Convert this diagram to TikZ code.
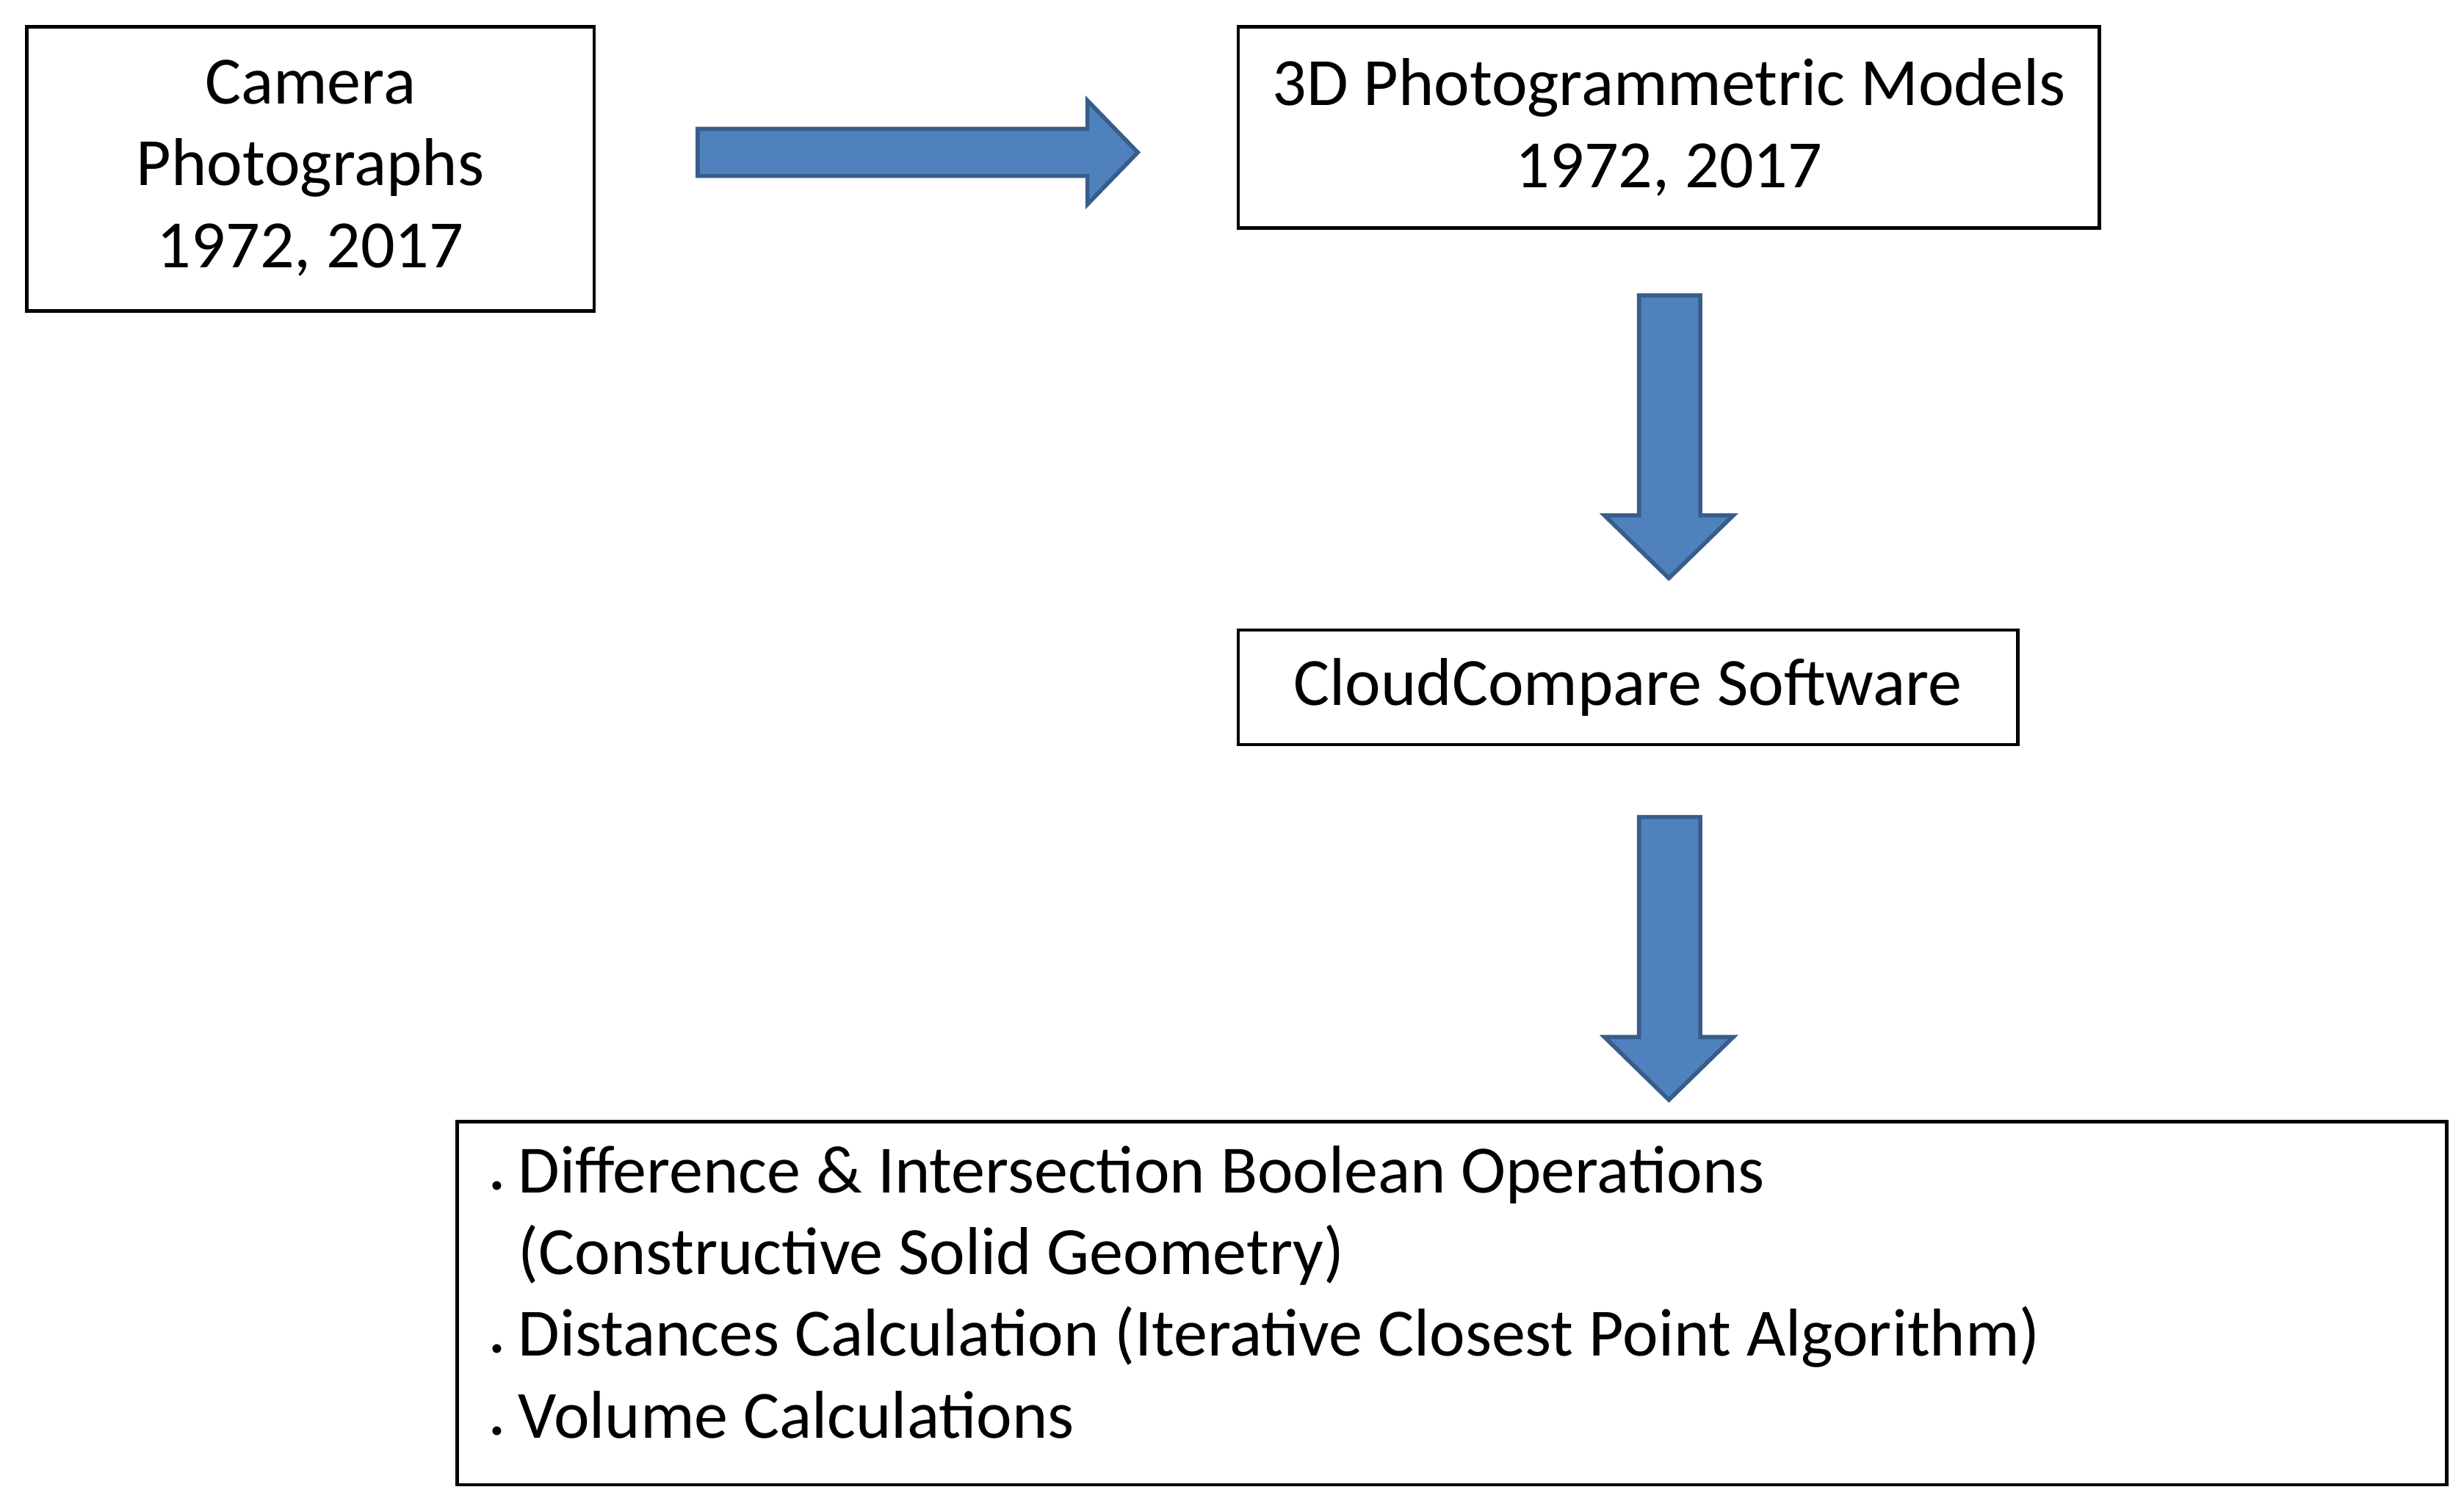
\documentclass[tikz,border=0pt]{standalone}
\usepackage{fontspec}
\setmainfont{Carlito}
\begin{document}
\begin{tikzpicture}[x=0.02cm,y=-0.02cm,
  box/.style={draw=black,line width=1.2pt,fill=white},
  txt/.style={font=\fontsize{24.5}{29.6}\selectfont,align=center,text=black},
  blk/.style={fill={rgb,255:red,79;green,129;blue,189},draw={rgb,255:red,56;green,93;blue,138},line width=1.5pt}]
\useasboundingbox (0,0) rectangle (1568,960);
\fill[white] (0,0) rectangle (1568,960);
\draw[box] (17,17) rectangle (378,198);
\node[txt] (cam) at (197.5,107) {Camera\\Photographs\\1972, 2017};
\draw[box] (788,17) rectangle (1336,145);
\node[txt] (pm) at (1062,81) {3D Photogrammetric Models\\1972, 2017};
\draw[box] (788,401) rectangle (1284,474);
\node[txt] (cc) at (1036,437.5) {CloudCompare Software};
\draw[box] (291,714) rectangle (1557,945);
\node[txt,align=left,anchor=north west] (ops) at (306,723) {{\small\textbullet}\ Difference \& Intersection Boolean Operations\\
\phantom{{\small\textbullet}\ }(Constructive Solid Geometry)\\
{\small\textbullet}\ Distances Calculation (Iterative Closest Point Algorithm)\\
{\small\textbullet}\ Volume Calculations};
\draw[blk] (444,82) -- (692,82) -- (692,64) -- (724,97) -- (692,130) -- (692,112) -- (444,112) -- cycle;
\draw[blk] (1043,188) -- (1082,188) -- (1082,328) -- (1103,328) -- (1062,368) -- (1021,328) -- (1043,328) -- cycle;
\draw[blk] (1043,520) -- (1082,520) -- (1082,660) -- (1103,660) -- (1062,700) -- (1021,660) -- (1043,660) -- cycle;
\end{tikzpicture}
\end{document}
